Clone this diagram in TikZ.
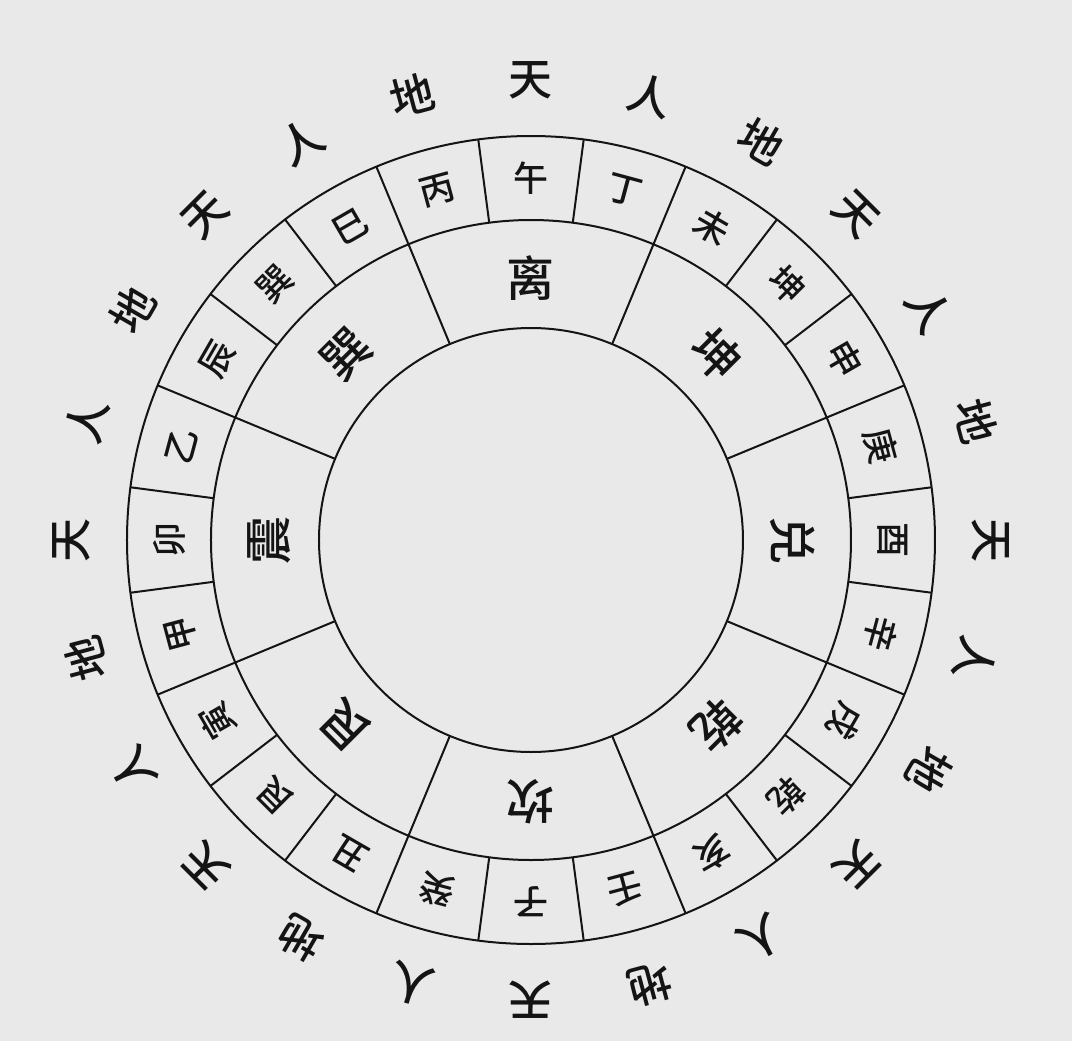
\documentclass[tikz,border=0pt]{standalone}
\usepackage{fontspec}
\usetikzlibrary{calc}
\newfontfamily\cjk{Noto Sans CJK SC Medium}
\definecolor{bg}{HTML}{E9E9E9}
\definecolor{ink}{HTML}{141414}
\begin{document}
\begin{tikzpicture}[x=0.5pt,y=0.5pt,
  ring/.style={draw=ink,line width=1pt},
  outerlbl/.style={inner sep=0pt,font=\cjk\fontsize{22pt}{22pt}\selectfont,text=ink},
  mountain/.style={inner sep=0pt,font=\cjk\fontsize{17.5pt}{17.5pt}\selectfont,text=ink},
  trigram/.style={inner sep=0pt,font=\cjk\fontsize{24pt}{24pt}\selectfont,text=ink}]
\fill[bg] (-531,-501) rectangle (541,540);
\useasboundingbox (-531,-501) rectangle (541,540);
\coordinate (c) at (0,0);
% circles
\draw[ring] (c) circle[radius=106pt];
\draw[ring] (c) circle[radius=160pt];
\draw[ring] (c) circle[radius=202pt];
% 24 dividers
\foreach \k in {0,...,23}{
  \draw[ring] ($(c)+({82.5-15*\k}:160pt)$) -- ($(c)+({82.5-15*\k}:202pt)$);
}
% 8 trigram dividers
\foreach \k in {0,...,7}{
  \draw[ring] ($(c)+({67.5-45*\k}:106pt)$) -- ($(c)+({67.5-45*\k}:160pt)$);
}
% 24 mountains
\foreach \t [count=\i from 0] in {午,丁,未,坤,申,庚,酉,辛,戌,乾,亥,壬,子,癸,丑,艮,寅,甲,卯,乙,辰,巽,巳,丙}{
  \node[mountain,rotate={-15*\i}] (m\i) at ($(c)+({90-15*\i}:181pt)$) {\t};
}
% trigrams
\foreach \t [count=\i from 0] in {离,坤,兑,乾,坎,艮,震,巽}{
  \node[trigram,rotate={-45*\i}] (g\i) at ($(c)+({90-45*\i}:131pt)$) {\t};
}
% outer labels
\foreach \t [count=\i from 0] in {天,人,地,天,人,地,天,人,地,天,人,地,天,人,地,天,人,地,天,人,地,天,人,地}{
  \node[outerlbl,rotate={-15*\i}] (o\i) at ($(c)+({90-15*\i}:230pt)$) {\t};
}
\end{tikzpicture}
\end{document}
